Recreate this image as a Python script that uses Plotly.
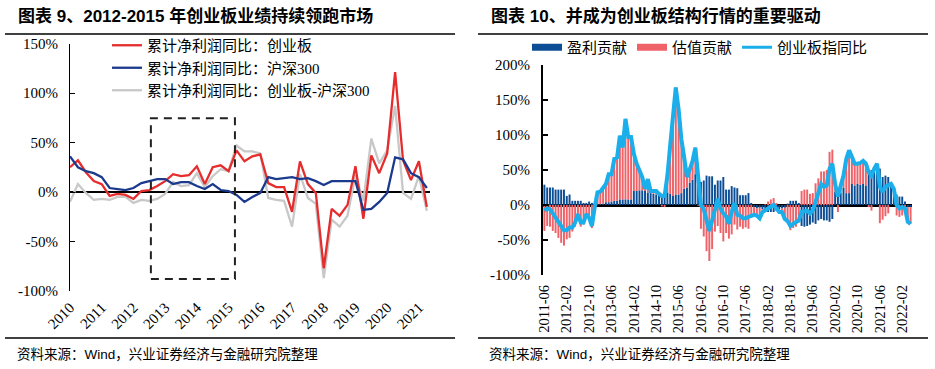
import plotly.graph_objects as go

# ---------------- Left chart data (quarterly, 2010Q1 - 2021Q2) ----------------
quarters = [f"{y}Q{q}" for y in range(2010, 2022) for q in range(1, 5)][:46]
year_tick_vals = ["2010Q1", "2011Q1", "2012Q1", "2013Q1", "2014Q1", "2015Q1",
                  "2016Q1", "2017Q1", "2018Q1", "2019Q1", "2020Q1", "2021Q1"]
year_tick_text = ["2010", "2011", "2012", "2013", "2014", "2015",
                  "2016", "2017", "2018", "2019", "2020", "2021"]

gem_profit_yoy = [25, 32, 20, 11, 8, -4, -2, -3, -7, 1, 2, 6, 11, 18, 16,
                  17, 26, 8, 25, 27, 21, 42, 31, 36, 38, 9, 5, 5, -20, 31,
                  8, -1, -77, -17, -24, -13, 26, -27, 37, 19, 39, 121, 32, 12, 31,
                  -15]
hs300_profit_yoy = [36, 25, 21, 19, 15, 4, 3, 2, 4, 9, 11, 13, 13, 8, 10,
                    10, 6, 3, 8, 2, 1, -3, -10, -5, -1, 15, 13, 14, 15, 13,
                    14, 11, 7, 11, 11, 11, 11, -18, -17, -10, -1, 35, 33, 19, 15,
                    4]
gem_minus_hs300 = [-10, 8, -1, -8, -7, -8, -5, -5, -11, -8, -9, -7, -2, 10, 6,
                   7, 19, 5, 16, 23, 21, 47, 41, 41, 39, -6, -8, -9, -35, 18,
                   -6, -12, -87, -28, -35, -24, 17, -9, 54, 29, 42, 87, -1, -7, 16,
                   -19]

# ---------------- Right chart data (monthly, 2011-06 - 2022-05) ----------------
months = []
for y in range(2011, 2023):
    for m in range(1, 13):
        s = f"{y}-{m:02d}"
        if "2011-06" <= s <= "2022-05":
            months.append(s)
month_tick_vals = ["2011-06", "2012-02", "2012-10", "2013-06", "2014-02", "2014-10",
                   "2015-06", "2016-02", "2016-10", "2017-06", "2018-02", "2018-10",
                   "2019-06", "2020-02", "2020-10", "2021-06", "2022-02"]

profit_contrib = [29, 25, 25, 25, 22, 22, 22, 22, 13, 15, 6, 6, 6, 6, 3, 3, 5, 3, 2, 1,
                  1, 2, 4, 4, 5, 6, 6, 8, 8, 8, 8, 8, 20, 20, 21, 21, 20, 18, 17, 16,
                  15, 14, 15, 16, 18, 16, 13, 15, 15, 17, 23, 25, 32, 36, 44, 43, 33, 35, 42, 41,
                  41, 29, 35, 35, 40, 22, 22, 27, 25, 24, 14, 14, 14, 17, 3, -3, -5, -4, -6, -8,
                  -10, -10, -10, -8, -6, -5, -4, 2, 6, 6, 6, 3, -30, -31, -30, -28, -25, -27, -22, -20,
                  -22, -22, -24, -20, 19, 22, 17, 25, 17, 17, 30, 28, 30, 29, 30, 28, 50, 50, 48, 55,
                  52, 40, 42, 40, 30, 15, 15, 12, 12, 5, -3, -3]
valuation_contrib = [-37, -30, -31, -37, -40, -47, -54, -58, -49, -47, -38, -31, -19, -31, -28, -16, -23, -33, -5, 17,
                     18, 23, 26, 40, 39, 60, 62, 91, 74, 115, 89, 89, 53, 39, 30, 19, 3, 19, 3, 4,
                     5, 2, -2, -3, 24, 69, 119, 153, 122, 77, 45, 15, 19, 27, 38, -1, -34, -45, -66, -80,
                     -63, -38, -30, -40, -52, -40, -48, -42, -28, -35, -31, -34, -32, -34, -18, -11, -10, -15, -4, 1,
                     5, 8, 10, 3, -4, -5, -16, -25, -36, -33, -31, -25, 20, 22, 22, 16, 17, 31, 38, 48,
                     48, 50, 76, 79, 11, -10, 11, 17, 49, 61, 39, 31, 29, 31, 33, 31, -3, -8, 4, 4,
                     -26, -21, -16, -12, 0, 8, -15, -17, -15, -10, -21, -24]
gem_index_yoy = [-8, -5, -6, -12, -18, -25, -32, -36, -36, -32, -32, -25, -13, -25, -25, -13, -18, -30, -3, 18,
                 19, 25, 30, 44, 44, 66, 68, 99, 82, 123, 97, 97, 73, 59, 51, 40, 23, 37, 20, 20,
                 20, 16, 13, 13, 42, 85, 132, 168, 137, 94, 68, 40, 51, 63, 82, 42, 0, -6, -22, -37,
                 -22, -6, 9, -5, -12, -16, -27, -10, 3, -14, -15, -19, -19, -17, -15, -14, -15, -19, -10, -8,
                 -5, -2, 0, -5, -10, -10, -20, -23, -30, -27, -25, -22, -10, -9, -8, -12, -8, 4, 16, 30,
                 26, 28, 52, 59, 30, 12, 28, 42, 66, 78, 69, 59, 59, 60, 63, 59, 47, 42, 52, 59,
                 26, 19, 26, 28, 30, 23, 0, -5, -3, -5, -24, -27]

# ---------------- Styles ----------------
W, H = 935, 369
SERIF = '"Liberation Serif", "Times New Roman", "Noto Sans CJK SC", serif'
SANS = '"Liberation Sans", Arial, "Noto Sans CJK SC", sans-serif'
RED, NAVY, GRAY = "#E52D2D", "#1B3A8E", "#C8C8C8"
BLUE_BAR, RED_BAR, CYAN = "#0C4E96", "#EF6268", "#1AAEEA"


def px_x(p):
    return p / W


def px_y(p):
    return (H - p) / H


fig = go.Figure()

# Left chart lines
fig.add_trace(go.Scatter(x=quarters, y=gem_minus_hs300, mode="lines",
                         name="累计净利润同比：创业板-沪深300",
                         line=dict(color=GRAY, width=2.3), legendrank=3,
                         xaxis="x", yaxis="y", legend="legend"))
fig.add_trace(go.Scatter(x=quarters, y=gem_profit_yoy, mode="lines",
                         name="累计净利润同比：创业板",
                         line=dict(color=RED, width=2.3), legendrank=1,
                         xaxis="x", yaxis="y", legend="legend"))
fig.add_trace(go.Scatter(x=quarters, y=hs300_profit_yoy, mode="lines",
                         name="累计净利润同比：沪深300",
                         line=dict(color=NAVY, width=2.3), legendrank=2,
                         xaxis="x", yaxis="y", legend="legend"))

# Right chart bars + line
fig.add_trace(go.Bar(x=months, y=profit_contrib, name="盈利贡献",
                     marker=dict(color=BLUE_BAR, line=dict(width=0)),
                     showlegend=False, xaxis="x2", yaxis="y2"))
fig.add_trace(go.Bar(x=months, y=valuation_contrib, name="估值贡献",
                     marker=dict(color=RED_BAR, line=dict(width=0)),
                     showlegend=False, xaxis="x2", yaxis="y2"))
fig.add_trace(go.Scatter(x=months, y=gem_index_yoy, mode="lines", name="创业板指同比",
                         line=dict(color=CYAN, width=4),
                         showlegend=False, xaxis="x2", yaxis="y2"))
# legend entries for right chart (wide rectangular swatches like the original)
for nm, col, wd in [("盈利贡献", BLUE_BAR, 7), ("估值贡献", RED_BAR, 7), ("创业板指同比", CYAN, 3)]:
    fig.add_trace(go.Scatter(x=[None], y=[None], mode="lines", name=nm,
                             line=dict(color=col, width=wd),
                             xaxis="x2", yaxis="y2", legend="legend2"))

tickfont = dict(family=SERIF, size=15, color="black")

fig.update_layout(
    width=W, height=H,
    margin=dict(l=0, r=0, t=0, b=0, autoexpand=False),
    paper_bgcolor="white", plot_bgcolor="white",
    hovermode=False,
    barmode="relative", bargap=0.3,
    xaxis=dict(domain=[px_x(70), px_x(430)], type="category", range=[0, 45.4],
               tickmode="array", tickvals=year_tick_vals, ticktext=year_tick_text,
               tickangle=-45, showgrid=False, zeroline=False, showline=False, ticks="",
               tickfont=tickfont, anchor="y", ticklabelstandoff=4, automargin=False),
    yaxis=dict(domain=[px_y(291), px_y(43.5)], range=[-100, 150],
               tickmode="array", tickvals=[-100, -50, 0, 50, 100, 150],
               ticktext=["-100%", "-50%", "0%", "50%", "100%", "150%"],
               showline=True, linecolor="black", linewidth=1,
               ticks="inside", ticklen=5, tickcolor="black",
               zeroline=True, zerolinecolor="black", zerolinewidth=1.3,
               showgrid=False, tickfont=tickfont, anchor="x", ticklabelstandoff=8,
               automargin=False),
    xaxis2=dict(domain=[px_x(543), px_x(912)], type="category", range=[-0.5, 131.5],
                tickmode="array", tickvals=month_tick_vals, ticktext=month_tick_vals,
                tickangle=-90, showgrid=False, zeroline=False, showline=False, ticks="",
                tickfont=dict(family=SERIF, size=14.5, color="black"), anchor="y2",
                ticklabelstandoff=6, automargin=False),
    yaxis2=dict(domain=[px_y(275), px_y(65)], range=[-100, 200],
                tickmode="array", tickvals=[-100, -50, 0, 50, 100, 150, 200],
                ticktext=["-100%", "-50%", "0%", "50%", "100%", "150%", "200%"],
                showline=True, linecolor="black", linewidth=2,
                ticks="inside", ticklen=5, tickwidth=2, tickcolor="black",
                zeroline=True, zerolinecolor="black", zerolinewidth=3,
                showgrid=False, tickfont=tickfont, anchor="x2", ticklabelstandoff=8,
                automargin=False),
    legend=dict(orientation="v", x=px_x(107), y=px_y(29), xanchor="left", yanchor="top",
                font=dict(family=SERIF, size=15, color="black"),
                bgcolor="rgba(0,0,0,0)", tracegroupgap=0, itemwidth=30),
    legend2=dict(orientation="h", x=px_x(527), y=px_y(31), xanchor="left", yanchor="top",
                 font=dict(family=SERIF, size=15, color="black"),
                 bgcolor="rgba(0,0,0,0)", itemwidth=30),
    showlegend=True,
)

# Titles, rules, sources
ann = []
ann.append(dict(text="<b>图表 9、2012-2015 年创业板业绩持续领跑市场</b>", x=px_x(16), y=px_y(16),
                xref="paper", yref="paper", xanchor="left", yanchor="middle", showarrow=False,
                font=dict(family=SANS, size=17, color="black")))
ann.append(dict(text="<b>图表 10、并成为创业板结构行情的重要驱动</b>", x=px_x(489), y=px_y(16),
                xref="paper", yref="paper", xanchor="left", yanchor="middle", showarrow=False,
                font=dict(family=SANS, size=17, color="black")))
for xs in (15, 487):
    ann.append(dict(text="资料来源：Wind，兴业证券经济与金融研究院整理", x=px_x(xs), y=px_y(354),
                    xref="paper", yref="paper", xanchor="left", yanchor="middle", showarrow=False,
                    font=dict(family=SANS, size=13.5, color="black")))
fig.update_layout(annotations=ann)

shapes = []
for x0, x1 in ((5, 455), (478, 928)):
    for yy in (34, 338):
        shapes.append(dict(type="line", xref="paper", yref="paper",
                           x0=px_x(x0), x1=px_x(x1), y0=px_y(yy), y1=px_y(yy),
                           line=dict(color="black", width=1.5)))
# dashed highlight box on left chart (2012-2015)
shapes.append(dict(type="rect", xref="x", yref="y", x0=10.2, x1=20.8, y0=-88, y1=74.5,
                   line=dict(color="#222222", width=2, dash="8px,6px"), fillcolor="rgba(0,0,0,0)",
                   layer="above"))
fig.update_layout(shapes=shapes)

# remove the default page margin so the figure sits at the window's top-left corner
fig.write_html("out.html",
               config={"displayModeBar": False, "staticPlot": True},
               post_script="document.body.style.margin='0px';document.body.style.padding='0px';")
